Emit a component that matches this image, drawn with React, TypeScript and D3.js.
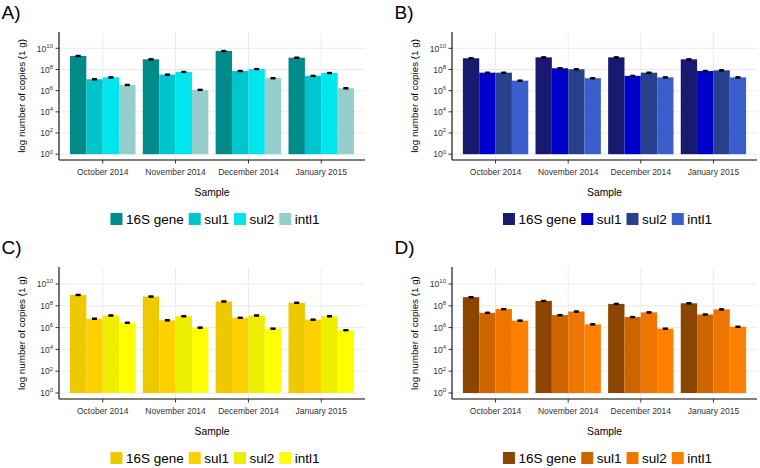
import React from "react";
import * as d3 from "d3";

const categories = ["October 2014", "November 2014", "December 2014", "January 2015"];
const genes = ["16S gene", "sul1", "sul2", "intl1"];
const panelLabels = ["A)", "B)", "C)", "D)"];
const yTickValues = [1, 1e2, 1e4, 1e6, 1e8, 1e10];
const xTitle = "Sample";
const yTitle = "log number of copies (1 g)";

// Panel A (per gene, ordered by month)
const a16S = [1.9e9, 9.1e8, 5.6e9, 1.3e9];
const aSul1 = [1.2e7, 3.3e7, 7.2e7, 2.5e7];
const aSul2 = [1.8e7, 5.9e7, 1.1e8, 4.7e7];
const aIntl1 = [3.5e6, 1.2e6, 1.5e7, 1.7e6];
const aErr = [
  [2.6e8, 1.3e8, 7.8e8, 1.9e8],
  [1.7e6, 4.6e6, 1.0e7, 3.5e6],
  [2.5e6, 8.2e6, 1.5e7, 6.6e6],
  [4.9e5, 1.7e5, 2.1e6, 2.4e5],
];

// Panel B
const b16S = [1.15e9, 1.4e9, 1.4e9, 9.1e8];
const bSul1 = [5.0e7, 1.3e8, 2.5e7, 7.2e7];
const bSul2 = [5.0e7, 1.05e8, 5.0e7, 8.3e7];
const bIntl1 = [8.9e6, 1.5e7, 1.8e7, 1.8e7];
const bErr = [
  [1.6e8, 2.0e8, 2.0e8, 1.3e8],
  [7.0e6, 1.8e7, 3.5e6, 1.0e7],
  [7.0e6, 1.5e7, 7.0e6, 1.2e7],
  [1.2e6, 2.1e6, 2.5e6, 2.5e6],
];

// Panel C
const c16S = [1.0e9, 7.1e8, 2.5e8, 1.9e8];
const cSul1 = [6.6e6, 4.7e6, 8.1e6, 5.4e6];
const cSul2 = [1.3e7, 1.1e7, 1.3e7, 1.1e7];
const cIntl1 = [2.8e6, 1.0e6, 8.1e5, 5.8e5];
const cErr = [
  [1.4e8, 1.0e8, 3.5e7, 2.7e7],
  [9.2e5, 6.6e5, 1.1e6, 7.6e5],
  [1.8e6, 1.5e6, 1.8e6, 1.5e6],
  [3.9e5, 1.4e5, 1.1e5, 8.1e4],
];

// Panel D
const d16S = [6.2e8, 2.8e8, 1.5e8, 1.7e8];
const dSul1 = [2.3e7, 1.4e7, 9.3e6, 1.6e7];
const dSul2 = [5.0e7, 3.0e7, 2.5e7, 4.7e7];
const dIntl1 = [4.4e6, 2.0e6, 8.1e5, 1.2e6];
const dErr = [
  [8.7e7, 3.9e7, 2.1e7, 2.4e7],
  [3.2e6, 2.0e6, 1.3e6, 2.2e6],
  [7.0e6, 4.2e6, 3.5e6, 6.6e6],
  [6.2e5, 2.8e5, 1.1e5, 1.7e5],
];

const colorsA = ["#008B8B", "#00C5CD", "#00E5EE", "#96CDCD"];
const colorsB = ["#191970", "#0000CD", "#27408B", "#3A5FCD"];
const colorsC = ["#EEC900", "#FFD000", "#EEEE00", "#FFFF00"];
const colorsD = ["#8B4500", "#CD6600", "#EE7600", "#FF7F00"];

const FONT = "'Liberation Sans', Arial, Helvetica, sans-serif";

type Geom = { left: number; right: number; top: number; bottom: number; labelX: number; labelY: number };

const geoms: Geom[] = [
  { left: 59, right: 365, top: 31.9, bottom: 160, labelX: 1.5, labelY: 19 },
  { left: 452, right: 757, top: 31.9, bottom: 160, labelX: 394.5, labelY: 19 },
  { left: 59, right: 365, top: 267.1, bottom: 399, labelX: 1.5, labelY: 253.5 },
  { left: 452, right: 757, top: 267.1, bottom: 399, labelX: 394.5, labelY: 253.5 },
];

const panels = [
  { values: [a16S, aSul1, aSul2, aIntl1], errors: aErr, colors: colorsA },
  { values: [b16S, bSul1, bSul2, bIntl1], errors: bErr, colors: colorsB },
  { values: [c16S, cSul1, cSul2, cIntl1], errors: cErr, colors: colorsC },
  { values: [d16S, dSul1, dSul2, dIntl1], errors: dErr, colors: colorsD },
];

function measure(text: string, size: number): number {
  const c = document.createElement("canvas").getContext("2d");
  if (!c) return text.length * size * 0.5;
  c.font = `${size}px ${FONT}`;
  return c.measureText(text).width;
}

function Panel({ g, values, errors, colors, label }: { g: Geom; values: number[][]; errors: number[][]; colors: string[]; label: string }) {
  const x = d3.scaleBand<string>().domain(categories).range([g.left, g.right]).paddingInner(0.1).paddingOuter(0.15);
  const xi = d3.scaleBand<string>().domain(genes).range([0, x.bandwidth()]);
  const y = d3.scaleLog().domain([Math.pow(10, -0.55), Math.pow(10, 11.55)]).range([g.bottom, g.top]);
  const cx = (g.left + g.right) / 2;
  const cy = (g.top + g.bottom) / 2;

  // legend layout
  const legSize = 13.5;
  const sw = 12;
  const widths = genes.map((t) => measure(t, legSize));
  const total = widths.reduce((s, w) => s + sw + 3.5 + w, 0) + 5 * (genes.length - 1);
  let lx = cx + 3 - total / 2;
  const legY = g.bottom + 59;
  const legendItems = genes.map((t, i) => {
    const item = { x: lx, text: t, color: colors[i] };
    lx += sw + 3.5 + widths[i] + 5;
    return item;
  });

  return (
    <g>
      <text x={g.labelX} y={g.labelY} fontSize={19} fontFamily={FONT} fill="#000">{label}</text>
      {/* grid */}
      {yTickValues.map((t) => (
        <line key={"gy" + t} x1={g.left} x2={g.right} y1={y(t)} y2={y(t)} stroke="#EBEBEB" strokeWidth={1} />
      ))}
      {categories.map((c) => (
        <line key={"gx" + c} x1={x(c)! + x.bandwidth() / 2} x2={x(c)! + x.bandwidth() / 2} y1={g.top} y2={g.bottom} stroke="#EBEBEB" strokeWidth={1} />
      ))}
      {/* bars */}
      {categories.map((c, ci) =>
        genes.map((ge, gi) => (
          <rect
            key={c + ge}
            x={x(c)! + xi(ge)!}
            width={xi.bandwidth()}
            y={y(values[gi][ci])}
            height={y(1) - y(values[gi][ci])}
            fill={colors[gi]}
          />
        ))
      )}
      {/* error bars */}
      {categories.map((c, ci) =>
        genes.map((ge, gi) => {
          const v = values[gi][ci];
          const e = errors[gi][ci];
          const mx = x(c)! + xi(ge)! + xi.bandwidth() / 2;
          const hw = xi.bandwidth() * 0.15;
          const y1 = y(v + e);
          const y2 = y(v - e);
          return (
            <g key={"e" + c + ge} stroke="#000" strokeWidth={1.1}>
              <line x1={mx - hw} x2={mx + hw} y1={y1} y2={y1} />
              <line x1={mx - hw} x2={mx + hw} y1={y2} y2={y2} />
              <line x1={mx} x2={mx} y1={y1} y2={y2} />
              <rect x={mx - hw} y={y1} width={hw * 2} height={Math.max(0, y2 - y1)} fill="#000" stroke="none" />
            </g>
          );
        })
      )}
      {/* axes */}
      <line x1={g.left} x2={g.left} y1={g.top} y2={g.bottom} stroke="#000" strokeWidth={1.1} />
      <line x1={g.left} x2={g.right} y1={g.bottom} y2={g.bottom} stroke="#000" strokeWidth={1.1} />
      {yTickValues.map((t) => {
        const exp = Math.round(Math.log10(t));
        return (
          <g key={"yt" + t}>
            <line x1={g.left - 3.5} x2={g.left} y1={y(t)} y2={y(t)} stroke="#333" strokeWidth={1} />
            <text x={g.left - 6} y={y(t) + 3.2} textAnchor="end" fontFamily={FONT} fontSize={8.5} fill="#333">
              10<tspan fontSize={6} dy={-3.8}>{exp}</tspan>
            </text>
          </g>
        );
      })}
      {categories.map((c) => {
        const px = x(c)! + x.bandwidth() / 2;
        return (
          <g key={"xt" + c}>
            <line x1={px} x2={px} y1={g.bottom} y2={g.bottom + 3.5} stroke="#333" strokeWidth={1} />
            <text x={px} y={g.bottom + 15} textAnchor="middle" fontFamily={FONT} fontSize={8.5} fill="#333">{c}</text>
          </g>
        );
      })}
      <text x={cx} y={g.bottom + 36} textAnchor="middle" fontFamily={FONT} fontSize={10.3} fill="#000">{xTitle}</text>
      <text transform={`translate(${g.left - 34.5},${cy}) rotate(-90)`} textAnchor="middle" fontFamily={FONT} fontSize={9.8} fill="#000">{yTitle}</text>
      {/* legend */}
      {legendItems.map((it) => (
        <g key={"l" + it.text}>
          <rect x={it.x} y={legY - sw / 2} width={sw} height={sw} fill={it.color} />
          <text x={it.x + sw + 3.5} y={legY + 4.8} fontFamily={FONT} fontSize={legSize} fill="#000">{it.text}</text>
        </g>
      ))}
    </g>
  );
}

export default function App() {
  return (
    <svg width={760} height={468} style={{ position: "absolute", left: 0, top: 0, background: "#fff" }}>
      <rect width={760} height={468} fill="#fff" />
      {panels.map((p, i) => (
        <Panel key={i} g={geoms[i]} values={p.values} errors={p.errors} colors={p.colors} label={panelLabels[i]} />
      ))}
    </svg>
  );
}
